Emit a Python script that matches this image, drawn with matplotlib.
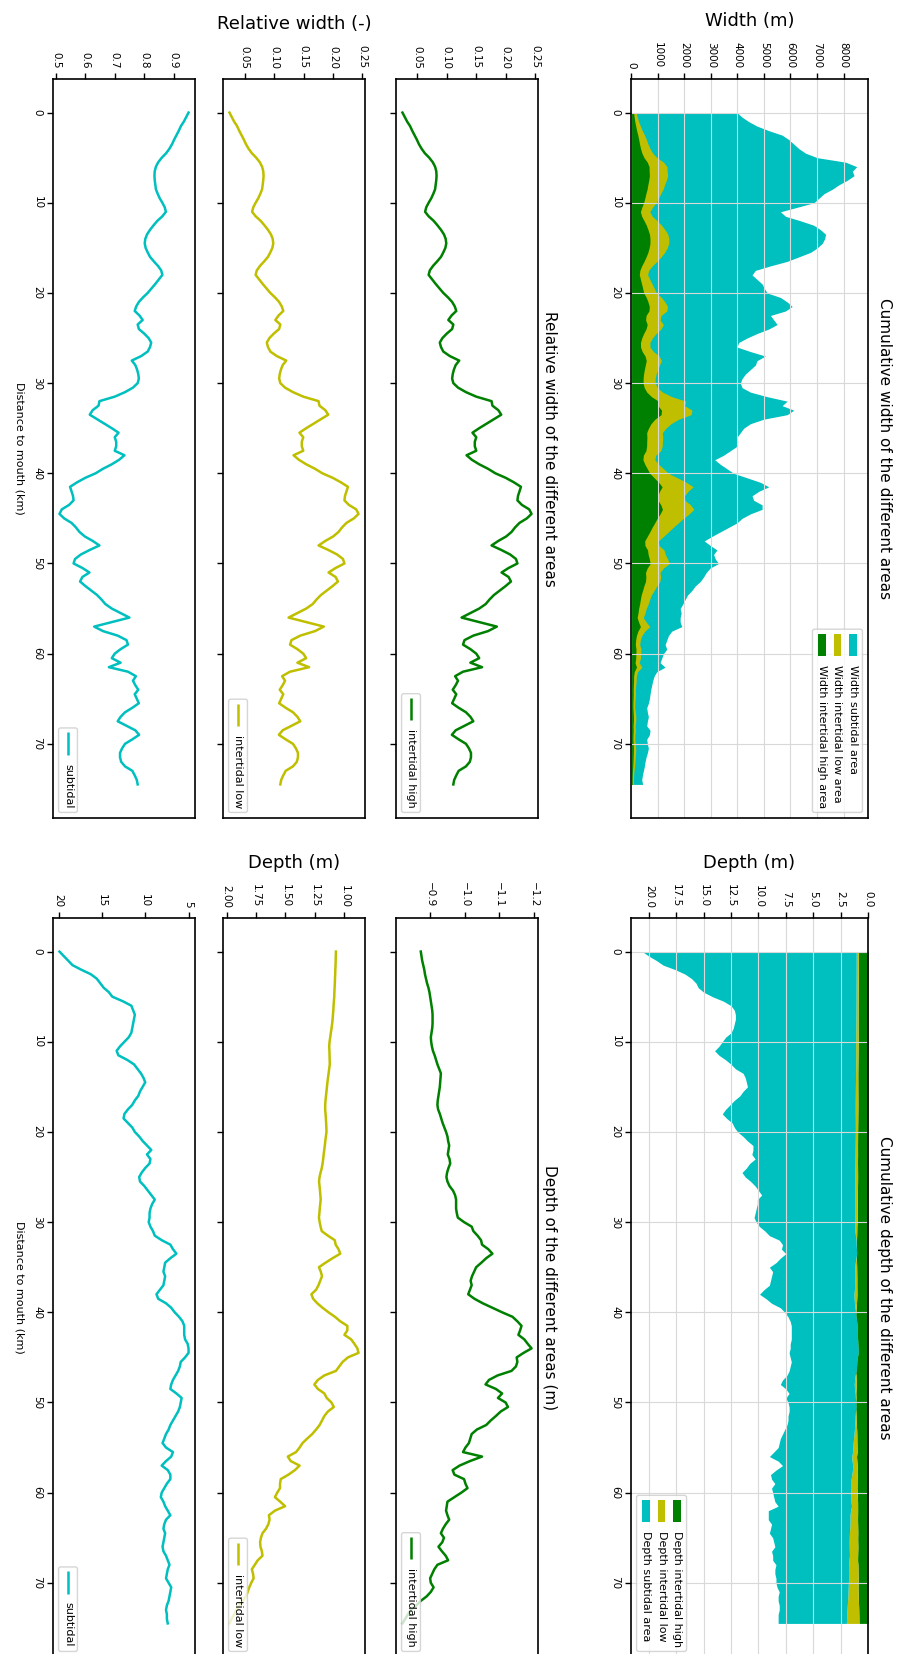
import numpy as np
import matplotlib
matplotlib.use("Agg")
import matplotlib.pyplot as plt
from matplotlib.patches import FancyBboxPatch, Rectangle
from matplotlib.lines import Line2D
from matplotlib.transforms import IdentityTransform
from matplotlib.ticker import MultipleLocator

# ---------------- data (distance every 0.5 km, 0 .. 74.5 km) ----------------
distance_km = np.arange(0.0, 75.0, 0.5)

width_total = [
    3987, 4176, 4428, 4742, 5182, 5686, 5937, 6126, 6314, 6566,
    7006, 8075, 8491, 8327, 8390, 8138, 7824, 7572, 7258, 7069,
    6881, 6252, 5623, 5811, 6377, 6881, 7132, 7321, 7283, 7195,
    7006, 6755, 6314, 5874, 5245, 4679, 4553, 4742, 4931, 5019,
    5119, 5623, 5874, 6063, 5811, 5245, 5371, 5497, 5182, 4742,
    4365, 4050, 3987, 4491, 5057, 4742, 4679, 4491, 4302, 4176,
    4113, 4176, 4491, 5119, 5874, 5686, 6126, 5874, 4994, 4491,
    4239, 4113, 3987, 4013, 3987, 3736, 3480, 3150, 3358, 3610,
    3862, 4365, 4868, 5182, 4805, 4553, 4616, 4931, 4931, 4491,
    4176, 3987, 3673, 3358, 3044, 2755, 2981, 3233, 3107, 3170,
    3296, 2981, 2830, 2730, 2604, 2415, 2289, 2126, 2038, 1950,
    1849, 1887, 1849, 1849, 1912, 1535, 1409, 1346, 1283, 1346,
    1220, 1157, 1094, 1283, 969, 868, 818, 780, 742, 717,
    692, 654, 591, 616, 654, 616, 591, 717, 692, 591,
    616, 654, 616, 566, 528, 503, 465, 428, 403, 440]

rel_high = [
    0.0245, 0.0285, 0.0325, 0.0375, 0.041, 0.045, 0.049, 0.0525, 0.057, 0.0625,
    0.070, 0.076, 0.080, 0.082, 0.0825, 0.082, 0.081, 0.080, 0.077, 0.0735,
    0.069, 0.065, 0.063, 0.069, 0.0775, 0.084, 0.090, 0.095, 0.098, 0.099,
    0.0975, 0.094, 0.090, 0.0835, 0.0765, 0.071, 0.069, 0.075, 0.081, 0.0875,
    0.094, 0.102, 0.109, 0.1135, 0.116, 0.108, 0.1025, 0.111, 0.109, 0.100,
    0.0925, 0.088, 0.090, 0.094, 0.105, 0.121, 0.115, 0.112, 0.110, 0.109,
    0.111, 0.119, 0.1325, 0.150, 0.176, 0.1775, 0.1875, 0.1925, 0.180, 0.1675,
    0.155, 0.1435, 0.150, 0.1475, 0.1475, 0.150, 0.1335, 0.1425, 0.155, 0.170,
    0.1825, 0.200, 0.214, 0.226, 0.2235, 0.221, 0.220, 0.2275, 0.240, 0.244,
    0.236, 0.2235, 0.216, 0.210, 0.201, 0.1875, 0.176, 0.1925, 0.2075, 0.2175,
    0.220, 0.205, 0.193, 0.205, 0.209, 0.200, 0.190, 0.180, 0.1725, 0.166,
    0.155, 0.140, 0.125, 0.155, 0.185, 0.170, 0.145, 0.130, 0.1275, 0.140,
    0.150, 0.155, 0.140, 0.160, 0.1275, 0.114, 0.119, 0.115, 0.110, 0.116,
    0.1125, 0.109, 0.120, 0.1325, 0.140, 0.145, 0.130, 0.115, 0.1085, 0.120,
    0.1325, 0.1375, 0.141, 0.141, 0.139, 0.1325, 0.120, 0.116, 0.1125, 0.111]

rel_low = [
    0.0240, 0.0280, 0.0320, 0.0370, 0.0405, 0.0445, 0.0485, 0.052, 0.0565, 0.062,
    0.0695, 0.0755, 0.0795, 0.0815, 0.082, 0.0815, 0.0805, 0.0795, 0.0765, 0.073,
    0.0685, 0.0645, 0.0625, 0.0685, 0.077, 0.0835, 0.0895, 0.0945, 0.0975, 0.0985,
    0.097, 0.0935, 0.0895, 0.083, 0.076, 0.0705, 0.0685, 0.0745, 0.0805, 0.087,
    0.0935, 0.1015, 0.1085, 0.113, 0.1155, 0.1075, 0.102, 0.1105, 0.1085, 0.0995,
    0.092, 0.0875, 0.0895, 0.0935, 0.1045, 0.1205, 0.1145, 0.1115, 0.1095, 0.1085,
    0.1105, 0.1185, 0.132, 0.1495, 0.1755, 0.177, 0.187, 0.192, 0.1795, 0.167,
    0.1545, 0.143, 0.1495, 0.147, 0.147, 0.1495, 0.133, 0.142, 0.1545, 0.1695,
    0.182, 0.1995, 0.2135, 0.2255, 0.223, 0.2205, 0.2195, 0.227, 0.2395, 0.2435,
    0.2355, 0.223, 0.2155, 0.2095, 0.2005, 0.187, 0.1755, 0.192, 0.207, 0.217,
    0.2195, 0.2045, 0.1925, 0.2045, 0.2085, 0.1995, 0.1895, 0.1795, 0.172, 0.1655,
    0.1545, 0.1395, 0.1245, 0.1545, 0.1845, 0.1695, 0.1445, 0.1295, 0.127, 0.1395,
    0.1495, 0.1545, 0.1395, 0.1595, 0.127, 0.1135, 0.1185, 0.1145, 0.1095, 0.1155,
    0.112, 0.1085, 0.1195, 0.132, 0.1395, 0.1445, 0.1295, 0.1145, 0.108, 0.1195,
    0.132, 0.137, 0.1405, 0.1405, 0.1385, 0.132, 0.1195, 0.1155, 0.112, 0.1105]

rel_sub = [
    0.951, 0.943, 0.935, 0.925, 0.918, 0.910, 0.902, 0.895, 0.886, 0.875,
    0.860, 0.848, 0.840, 0.836, 0.835, 0.836, 0.838, 0.840, 0.846, 0.853,
    0.862, 0.870, 0.874, 0.862, 0.845, 0.832, 0.820, 0.810, 0.804, 0.802,
    0.805, 0.812, 0.820, 0.833, 0.847, 0.858, 0.862, 0.850, 0.838, 0.825,
    0.812, 0.796, 0.782, 0.773, 0.768, 0.784, 0.795, 0.778, 0.782, 0.800,
    0.815, 0.824, 0.820, 0.812, 0.790, 0.758, 0.770, 0.776, 0.780, 0.782,
    0.778, 0.762, 0.735, 0.700, 0.648, 0.645, 0.625, 0.615, 0.640, 0.665,
    0.690, 0.713, 0.700, 0.705, 0.705, 0.700, 0.733, 0.715, 0.690, 0.660,
    0.635, 0.600, 0.572, 0.548, 0.553, 0.558, 0.560, 0.545, 0.520, 0.512,
    0.528, 0.553, 0.568, 0.580, 0.598, 0.625, 0.648, 0.615, 0.585, 0.565,
    0.560, 0.590, 0.614, 0.590, 0.582, 0.600, 0.620, 0.640, 0.655, 0.668,
    0.690, 0.720, 0.750, 0.690, 0.630, 0.660, 0.710, 0.740, 0.745, 0.720,
    0.700, 0.690, 0.720, 0.680, 0.745, 0.772, 0.762, 0.770, 0.780, 0.768,
    0.775, 0.782, 0.760, 0.735, 0.720, 0.710, 0.740, 0.770, 0.783, 0.760,
    0.735, 0.725, 0.718, 0.718, 0.722, 0.735, 0.760, 0.768, 0.775, 0.778]

depth_high = [
    -0.873, -0.875, -0.877, -0.880, -0.883, -0.885, -0.888, -0.891, -0.895, -0.898,
    -0.900, -0.902, -0.904, -0.906, -0.907, -0.907, -0.907, -0.906, -0.904, -0.902,
    -0.903, -0.905, -0.908, -0.913, -0.917, -0.921, -0.926, -0.931, -0.930, -0.929,
    -0.928, -0.926, -0.924, -0.922, -0.921, -0.923, -0.928, -0.932, -0.936, -0.941,
    -0.946, -0.950, -0.952, -0.955, -0.953, -0.951, -0.956, -0.958, -0.953, -0.949,
    -0.947, -0.950, -0.956, -0.966, -0.972, -0.975, -0.975, -0.975, -0.977, -0.980,
    -0.998, -1.020, -1.025, -1.037, -1.047, -1.050, -1.068, -1.080, -1.062, -1.048,
    -1.033, -1.027, -1.021, -1.017, -1.020, -1.015, -1.010, -1.028, -1.052, -1.080,
    -1.108, -1.138, -1.152, -1.164, -1.160, -1.155, -1.172, -1.182, -1.193, -1.170,
    -1.150, -1.152, -1.148, -1.135, -1.095, -1.070, -1.060, -1.090, -1.108, -1.096,
    -1.118, -1.125, -1.104, -1.090, -1.075, -1.062, -1.035, -1.020, -1.016, -1.012,
    -1.002, -0.995, -1.050, -1.015, -0.985, -0.965, -0.970, -0.998, -1.002, -1.008,
    -0.990, -0.970, -0.950, -0.948, -0.946, -0.950, -0.955, -0.945, -0.937, -0.931,
    -0.940, -0.935, -0.924, -0.934, -0.945, -0.952, -0.921, -0.912, -0.906, -0.900,
    -0.902, -0.910, -0.902, -0.890, -0.873, -0.860, -0.844, -0.836, -0.828, -0.820]

depth_low = [
    1.072, 1.073, 1.074, 1.075, 1.077, 1.078, 1.080, 1.081, 1.083, 1.085,
    1.086, 1.089, 1.092, 1.094, 1.097, 1.100, 1.104, 1.109, 1.115, 1.120,
    1.126, 1.129, 1.127, 1.126, 1.125, 1.124, 1.129, 1.134, 1.139, 1.144,
    1.148, 1.152, 1.156, 1.160, 1.163, 1.163, 1.160, 1.157, 1.155, 1.153,
    1.152, 1.157, 1.162, 1.166, 1.171, 1.176, 1.180, 1.185, 1.192, 1.202,
    1.211, 1.215, 1.211, 1.207, 1.204, 1.201, 1.205, 1.209, 1.212, 1.216,
    1.210, 1.202, 1.192, 1.140, 1.082, 1.074, 1.050, 1.035, 1.100, 1.160,
    1.216, 1.200, 1.190, 1.205, 1.220, 1.240, 1.280, 1.265, 1.230, 1.185,
    1.135, 1.080, 1.035, 0.975, 0.975, 1.000, 0.943, 0.915, 0.890, 0.880,
    0.970, 1.015, 1.043, 1.072, 1.170, 1.225, 1.255, 1.225, 1.170, 1.150,
    1.110, 1.090, 1.140, 1.170, 1.190, 1.210, 1.240, 1.273, 1.315, 1.355,
    1.380, 1.410, 1.480, 1.455, 1.380, 1.420, 1.474, 1.540, 1.546, 1.546,
    1.570, 1.589, 1.545, 1.503, 1.590, 1.640, 1.635, 1.645, 1.665, 1.695,
    1.708, 1.715, 1.712, 1.700, 1.695, 1.735, 1.760, 1.785, 1.775, 1.770,
    1.790, 1.807, 1.820, 1.835, 1.862, 1.891, 1.915, 1.935, 1.958, 1.975]

depth_sub = [
    19.9, 19.4, 18.9, 18.4, 17.4, 16.3, 15.6, 15.2, 14.8, 14.2,
    13.8, 12.6, 11.6, 11.4, 11.2, 11.3, 11.4, 11.5, 11.6, 11.9,
    12.4, 12.9, 13.3, 13.1, 12.1, 11.3, 10.9, 10.5, 10.2, 10.0,
    10.3, 10.6, 10.8, 11.2, 11.5, 12.0, 12.4, 12.5, 12.0, 11.5,
    11.2, 10.7, 10.3, 9.8, 9.3, 9.8, 9.4, 9.5, 10.0, 10.4,
    10.7, 10.6, 10.1, 9.7, 9.3, 8.9, 9.2, 9.4, 9.5, 9.5,
    9.6, 9.4, 9.1, 8.9, 8.1, 7.1, 6.8, 6.4, 7.1, 7.7,
    7.8, 7.9, 7.7, 7.8, 7.9, 8.3, 8.7, 8.5, 7.6, 7.0,
    6.6, 6.1, 5.7, 5.5, 5.5, 5.5, 5.4, 5.1, 5.0, 5.0,
    5.4, 5.9, 6.0, 6.2, 6.5, 6.8, 7.0, 7.1, 6.4, 5.8,
    5.9, 6.0, 6.2, 6.5, 6.8, 7.1, 7.3, 7.6, 7.8, 8.0,
    7.6, 6.8, 7.0, 7.6, 8.1, 7.4, 7.1, 7.1, 7.5, 7.8,
    8.1, 8.2, 7.9, 7.7, 7.4, 7.1, 7.6, 7.8, 7.9, 7.7,
    7.8, 7.9, 8.0, 7.9, 7.6, 7.4, 7.2, 7.4, 7.5, 7.6,
    7.3, 7.0, 7.1, 7.2, 7.3, 7.5, 7.6, 7.5, 7.5, 7.4]

depth_total = [
    20.6, 20.0, 19.3, 18.7, 17.6, 16.7, 16.1, 15.7, 15.5, 15.0,
    14.2, 13.2, 12.5, 12.2, 12.1, 12.1, 12.2, 12.3, 12.5, 13.0,
    13.3, 13.6, 14.0, 13.6, 13.0, 12.5, 12.1, 11.4, 11.2, 11.1,
    11.0, 11.4, 11.7, 12.2, 12.6, 13.0, 13.3, 12.9, 12.4, 12.2,
    11.9, 11.4, 11.0, 10.5, 10.5, 10.6, 10.3, 10.8, 11.1, 11.5,
    11.2, 10.7, 10.3, 10.0, 9.7, 10.1, 10.1, 10.2, 10.3, 10.4,
    10.2, 9.9, 9.4, 9.0, 8.1, 7.8, 7.9, 7.5, 8.0, 8.4,
    9.0, 8.7, 8.8, 8.9, 9.0, 9.5, 9.9, 9.3, 8.8, 8.0,
    7.6, 7.3, 7.1, 7.0, 7.0, 7.0, 7.0, 7.1, 7.1, 7.2,
    7.1, 7.0, 7.1, 7.2, 7.4, 7.8, 8.0, 7.5, 7.2, 7.5,
    7.3, 7.2, 7.2, 7.3, 7.3, 7.4, 7.6, 7.8, 8.0, 8.1,
    8.2, 8.6, 9.0, 8.2, 7.8, 8.4, 8.9, 8.8, 8.5, 8.8,
    8.7, 8.6, 8.5, 8.2, 9.1, 9.1, 9.1, 8.8, 8.9, 9.0,
    8.7, 8.6, 8.5, 8.8, 8.7, 8.7, 8.4, 8.5, 8.5, 8.4,
    8.4, 8.3, 8.1, 8.2, 8.2, 8.1, 8.1, 8.2, 8.2, 8.2]

distance_ticks = [0, 10, 20, 30, 40, 50, 60, 70]

# ---------------- figure set-up ----------------
W_PX, H_PX, DPI = 897, 1654, 100
plt.rcParams['font.family'] = ['DejaVu Sans']
fig = plt.figure(figsize=(W_PX / DPI, H_PX / DPI), dpi=DPI)
fig.patch.set_facecolor('white')

C_HIGH, C_LOW, C_SUB = 'g', 'y', 'c'
LW = 1.8
TICK_FS = 7.5
LABELPAD = 12

x = np.asarray(distance_km)
d_lo, d_hi = x.min(), x.max()
d_m = 0.05 * (d_hi - d_lo)


def add_ax(x0, x1, ytop, ybot):
    return fig.add_axes([x0 / W_PX, 1 - ybot / H_PX, (x1 - x0) / W_PX, (ybot - ytop) / H_PX])


def style(ax, dist_labels, vstep, grid=False):
    for s in ax.spines.values():
        s.set_linewidth(1.2)
    ax.xaxis.tick_top()
    ax.xaxis.set_label_position('top')
    ax.tick_params(axis='both', direction='out', length=4, width=1, labelsize=TICK_FS)
    ax.tick_params(axis='x', top=True, bottom=False, labeltop=True, labelbottom=False,
                   labelrotation=270)
    ax.tick_params(axis='y', left=True, right=False, labelleft=dist_labels,
                   labelrotation=270)
    ax.set_yticks(distance_ticks)
    ax.set_ylim(d_hi + d_m, d_lo - d_m)
    ax.xaxis.set_major_locator(MultipleLocator(vstep))
    for t in ax.get_yticklabels():
        t.set_va('center')
    if grid:
        ax.grid(True, color='0.85', linewidth=0.8)


COL_SUB, COL_LOW, COL_HIGH, COL_CUM = (53, 195), (223, 365), (396, 538), (631, 868)
TOP, BOT = (79, 818), (918, 1657)

# ---------------- widths ----------------
W = np.asarray(width_total, float)
rh, rl, rs = np.asarray(rel_high), np.asarray(rel_low), np.asarray(rel_sub)

ax_cw = add_ax(*COL_CUM, *TOP)
ax_cw.fill_betweenx(x, 0, W, color=C_SUB, linewidth=0)
ax_cw.fill_betweenx(x, 0, (rh + rl) * W, color=C_LOW, linewidth=0)
ax_cw.fill_betweenx(x, 0, rh * W, color=C_HIGH, linewidth=0)
style(ax_cw, True, 1000, grid=True)
ax_cw.set_xlim(0, W.max() * 1.05)
ax_cw.set_xlabel('Width (m)', fontsize=13, labelpad=LABELPAD)

ax_rh = add_ax(*COL_HIGH, *TOP)
ax_rh.plot(rh, x, color=C_HIGH, lw=LW)
style(ax_rh, False, 0.05)
ax_rl = add_ax(*COL_LOW, *TOP)
ax_rl.plot(rl, x, color=C_LOW, lw=LW)
style(ax_rl, False, 0.05)
ax_rl.set_xlabel('Relative width (-)', fontsize=13, labelpad=LABELPAD)
ax_rs = add_ax(*COL_SUB, *TOP)
ax_rs.plot(rs, x, color=C_SUB, lw=LW)
style(ax_rs, True, 0.1)

# ---------------- depths ----------------
dh, dl, ds, D = (np.asarray(depth_high), np.asarray(depth_low),
                 np.asarray(depth_sub), np.asarray(depth_total))

ax_cd = add_ax(*COL_CUM, *BOT)
ax_cd.fill_betweenx(x, 0, -dh, color=C_HIGH, linewidth=0)
ax_cd.fill_betweenx(x, -dh, dl, color=C_LOW, linewidth=0)
ax_cd.fill_betweenx(x, dl, D, color=C_SUB, linewidth=0)
style(ax_cd, True, 2.5, grid=True)
ax_cd.set_xlim(D.max() * 1.05, 0)
ax_cd.set_xlabel('Depth (m)', fontsize=13, labelpad=LABELPAD)

ax_dh = add_ax(*COL_HIGH, *BOT)
ax_dh.plot(dh, x, color=C_HIGH, lw=LW)
style(ax_dh, False, 0.1)
ax_dh.invert_xaxis()
ax_dl = add_ax(*COL_LOW, *BOT)
ax_dl.plot(dl, x, color=C_LOW, lw=LW)
style(ax_dl, False, 0.25)
ax_dl.invert_xaxis()
ax_dl.set_xlabel('Depth (m)', fontsize=13, labelpad=LABELPAD)
ax_ds = add_ax(*COL_SUB, *BOT)
ax_ds.plot(ds, x, color=C_SUB, lw=LW)
style(ax_ds, True, 5)
ax_ds.invert_xaxis()

# ---------------- titles and labels (rotated page) ----------------
def vtext(xp, yp, s, fs):
    fig.text(xp / W_PX, 1 - yp / H_PX, s, rotation=270, ha='center', va='center',
             fontsize=fs)

vtext(884, (TOP[0] + TOP[1]) / 2, 'Cumulative width of the different areas', 11)
vtext(549, (TOP[0] + TOP[1]) / 2, 'Relative width of the different areas', 11)
vtext(884, (BOT[0] + BOT[1]) / 2, 'Cumulative depth of the different areas', 11)
vtext(549, (BOT[0] + BOT[1]) / 2, 'Depth of the different areas (m)', 11)
vtext(19, (TOP[0] + TOP[1]) / 2, 'Distance to mouth (km)', 8)
vtext(19, (BOT[0] + BOT[1]) / 2, 'Distance to mouth (km)', 8)

# ---------------- rotated legends ----------------
def rot_legend(ax, entries, corner, fs=8):
    px = DPI / 72.0
    em = fs * px
    r = fig.canvas.get_renderer()
    pos = ax.get_position()
    ax_x0, ax_x1, ax_y0 = pos.x0 * W_PX, pos.x1 * W_PX, pos.y0 * H_PX
    pad, bpad, hl, htp, lsp = 0.5 * em, 0.4 * em, 2.0 * em, 0.8 * em, 0.5 * em
    texts = [fig.text(0, 0, lab, fontsize=fs, rotation=270, ha='center', va='top',
                      transform=IdentityTransform(), zorder=6) for lab, _, _ in entries]
    exts = [t.get_window_extent(r) for t in texts]
    thick = max(e.width for e in exts)
    tlen = max(e.height for e in exts)
    n = len(entries)
    bw = 2 * bpad + n * thick + (n - 1) * lsp
    bh = 2 * bpad + hl + htp + tlen
    bx0 = ax_x0 + pad if corner == 'lower right' else ax_x1 - pad - bw
    by0 = ax_y0 + pad
    box = FancyBboxPatch((bx0, by0), bw, bh,
                         boxstyle='round,pad=0,rounding_size=%f' % (0.2 * em),
                         transform=IdentityTransform(), facecolor=(1, 1, 1, 0.8),
                         edgecolor=(0.8, 0.8, 0.8, 0.8), linewidth=1.0, zorder=4)
    fig.add_artist(box)
    top = by0 + bh
    for i, ((lab, col, kind), t) in enumerate(zip(entries, texts)):
        xc = bx0 + bw - bpad - thick / 2 - i * (thick + lsp)
        if kind == 'patch':
            fig.add_artist(Rectangle((xc - 0.35 * em, top - bpad - hl), 0.7 * em, hl,
                                     facecolor=col, edgecolor='none',
                                     transform=IdentityTransform(), zorder=5))
        else:
            fig.add_artist(Line2D([xc, xc], [top - bpad, top - bpad - hl], color=col,
                                  lw=LW, solid_capstyle='butt',
                                  transform=IdentityTransform(), zorder=5))
        t.set_position((xc, top - bpad - hl - htp))


rot_legend(ax_cw, [('Width subtidal area', C_SUB, 'patch'),
                   ('Width intertidal low area', C_LOW, 'patch'),
                   ('Width intertidal high area', C_HIGH, 'patch')], 'upper right')
rot_legend(ax_rh, [('intertidal high', C_HIGH, 'line')], 'lower right')
rot_legend(ax_rl, [('intertidal low', C_LOW, 'line')], 'lower right')
rot_legend(ax_rs, [('subtidal', C_SUB, 'line')], 'lower right')
rot_legend(ax_cd, [('Depth intertidal high', C_HIGH, 'patch'),
                   ('Depth intertidal low', C_LOW, 'patch'),
                   ('Depth subtidal area', C_SUB, 'patch')], 'lower right')
rot_legend(ax_dh, [('intertidal high', C_HIGH, 'line')], 'lower right')
rot_legend(ax_dl, [('intertidal low', C_LOW, 'line')], 'lower right')
rot_legend(ax_ds, [('subtidal', C_SUB, 'line')], 'lower right')

fig.savefig('out.png', dpi=DPI)
